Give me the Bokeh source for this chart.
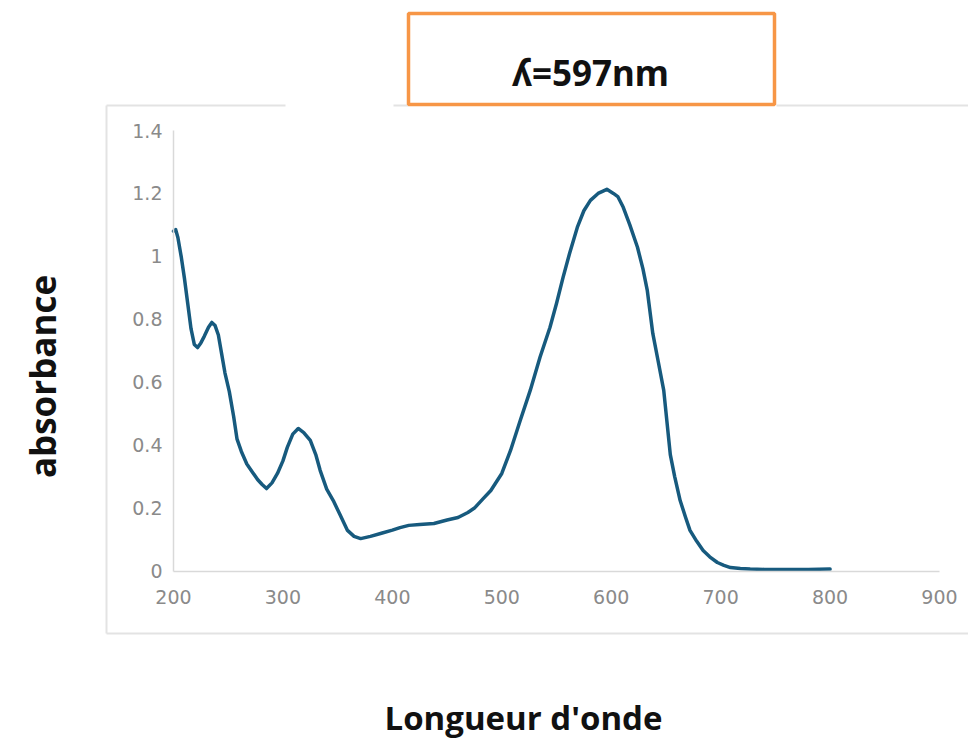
import math
from bokeh.plotting import figure
from bokeh.models import Range1d, FixedTicker, LinearAxis
from bokeh.core.properties import value
from bokeh.embed import file_html
from bokeh.resources import INLINE

# ---------------- data ----------------
wavelength = [200, 202, 204, 207, 210, 213, 216, 219, 222, 225, 228, 232, 235, 238,
              241, 244, 247, 251, 255, 258, 262, 267, 272, 277, 281, 285, 290, 295,
              300, 304, 309, 314, 319, 325, 330, 334, 340, 346, 352, 359, 365, 371,
              380, 390, 400, 407, 415, 425, 438, 450, 460, 469, 475, 483, 490, 500,
              508, 517, 526, 535, 544, 550, 556, 562, 569, 575, 581, 588, 596, 602,
              606, 611, 617, 624, 629, 633, 638, 643, 648, 654, 658, 663, 668, 672,
              678, 684, 690, 697, 703, 709, 718, 727, 740, 757, 780, 800]
absorbance = [1.08, 1.085, 1.06, 1.00, 0.93, 0.85, 0.77, 0.72, 0.71, 0.725, 0.745, 0.775, 0.79, 0.78,
              0.75, 0.69, 0.63, 0.57, 0.49, 0.42, 0.38, 0.34, 0.315, 0.29, 0.275, 0.262, 0.28, 0.31,
              0.35, 0.393, 0.435, 0.453, 0.44, 0.415, 0.37, 0.32, 0.26, 0.224, 0.18, 0.129, 0.11, 0.103,
              0.11, 0.12, 0.13, 0.138, 0.145, 0.148, 0.151, 0.162, 0.17, 0.186, 0.20, 0.23, 0.256, 0.31,
              0.383, 0.48, 0.574, 0.68, 0.774, 0.85, 0.933, 1.01, 1.092, 1.145, 1.178, 1.20, 1.213, 1.20,
              1.19, 1.156, 1.10, 1.029, 0.96, 0.891, 0.755, 0.665, 0.574, 0.37, 0.30, 0.224, 0.17, 0.129,
              0.095, 0.065, 0.045, 0.027, 0.018, 0.011, 0.008, 0.006, 0.005, 0.005, 0.005, 0.006]

x_ticks = [200, 300, 400, 500, 600, 700, 800, 900]
x_tick_labels = ["200", "300", "400", "500", "600", "700", "800", "900"]
y_ticks = [0, 0.2, 0.4, 0.6, 0.8, 1, 1.2, 1.4]
y_tick_labels = ["0", "0.2", "0.4", "0.6", "0.8", "1", "1.2", "1.4"]

title_text = "ʎ=597nm"
x_label = "Longueur d'onde"
y_label = "absorbance"

# ---------------- layout (page pixels) ----------------
W, H = 968, 742
OX, OY = 0, 0
AX_L, AX_R = 173.0, 939.0     # page x of 200 and 900
AX_B, AX_T = 570.5, 130.0     # page y of 0 and 1.4
X0, X1 = 200.0, 900.0
Y0, Y1 = 0.0, 1.4
sx = (AX_R - AX_L) / (X1 - X0)
sy = (AX_B - AX_T) / (Y1 - Y0)


def dx(px):
    return X0 + (px - AX_L) / sx


def dy(py):
    return Y0 + (AX_B - py) / sy


p = figure(width=W, height=H, output_backend="svg", toolbar_location=None,
           x_range=Range1d(dx(OX), dx(OX + W)), y_range=Range1d(dy(OY + H), dy(OY)),
           x_axis_type=None, y_axis_type=None, min_border=0)
p.outline_line_color = None
p.background_fill_color = "white"
p.border_fill_color = "white"

GRAY = "#d9d9d9"
TICK_COLOR = "#8a8a8a"

xa = LinearAxis(fixed_location=0, bounds=(200, 900),
                ticker=FixedTicker(ticks=x_ticks),
                major_label_overrides={t: s for t, s in zip(x_ticks, x_tick_labels)})
ya = LinearAxis(fixed_location=200, bounds=(0, 1.4),
                ticker=FixedTicker(ticks=y_ticks),
                major_label_overrides={t: s for t, s in zip(y_ticks, y_tick_labels)})
for ax in (xa, ya):
    ax.axis_line_color = GRAY
    ax.axis_line_width = 1.5
    ax.major_tick_line_color = None
    ax.minor_tick_line_color = None
    ax.major_tick_in = 0
    ax.major_tick_out = 0
    ax.major_label_text_font = "DejaVu Sans"
    ax.major_label_text_font_size = "19px"
    ax.major_label_text_color = TICK_COLOR
xa.major_label_standoff = 19
ya.major_label_standoff = 11
p.add_layout(xa, "below")
p.add_layout(ya, "left")

# outer light-gray chart border (partially hidden at the top)
BX_L, BX_T, BX_B, BX_R = 106, 105, 633, 968
p.segment(x0=[dx(BX_L), dx(393), dx(776), dx(BX_L), dx(BX_L)],
          y0=[dy(BX_T), dy(BX_T), dy(BX_T), dy(BX_T), dy(BX_B)],
          x1=[dx(285), dx(408), dx(BX_R), dx(BX_L), dx(BX_R)],
          y1=[dy(BX_T), dy(BX_T), dy(BX_T), dy(BX_B), dy(BX_B)],
          line_color="#e3e3e3", line_width=2)

# orange title box
p.quad(left=[dx(408)], right=[dx(774)], top=[dy(13)], bottom=[dy(104)],
       fill_color="white", line_color="#f79646", line_width=3.5)
p.text(x=[dx(590)], y=[dy(72)], text=[title_text], text_align="center",
       text_baseline="alphabetic", text_font=value("Noto Sans"), text_font_style="bold",
       text_font_size="35px", text_color="#111111")

# spectrum
p.line(wavelength, absorbance, line_color="#175a7e", line_width=3.5,
       line_join="round", line_cap="round")

# axis titles
p.text(x=[dx(42)], y=[dy(376)], text=[y_label], angle=math.pi / 2, text_align="center",
       text_baseline="alphabetic", text_font=value("Open Sans"), text_font_style="bold",
       text_font_size="35px", text_color="#111111")
p.text(x=[dx(523)], y=[dy(717)], text=[x_label], text_align="center",
       text_baseline="alphabetic", text_font=value("Open Sans"), text_font_style="bold",
       text_font_size="33px", text_color="#111111")

open("out.html", "w").write(file_html(p, INLINE))
